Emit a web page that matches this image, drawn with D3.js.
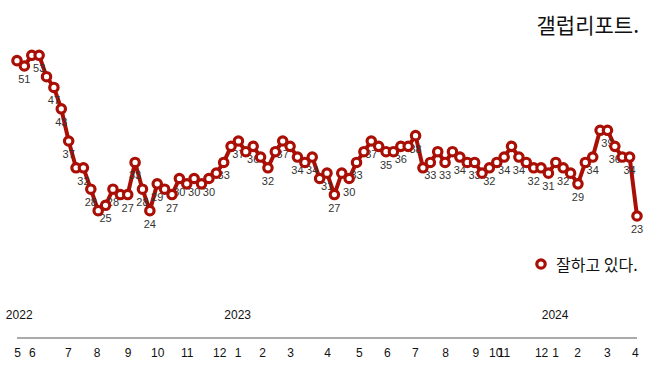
<!DOCTYPE html>
<html>
<head>
<meta charset="utf-8">
<script src="https://cdn.jsdelivr.net/npm/d3@7"></script>
<style>
  body { margin: 0; background: #fff; }
  svg { display: block; }
</style>
</head>
<body>
<div id="chart"></div>
<script>
// 갤럽 주간 조사 - 잘하고 있다 (%)
const values = [52, 51, 53, 53, 49, 47, 43, 37, 32, 32, 28, 24, 25, 28, 27, 27, 33, 28, 24, 29,
  28, 27, 30, 29, 30, 29, 30, 31, 33, 36, 37, 35, 36, 34, 32, 35, 37, 36, 34, 33,
  34, 30, 31, 27, 31, 30, 33, 35, 37, 36, 35, 35, 36, 36, 38, 32, 33, 35, 33, 35,
  34, 33, 33, 31, 32, 33, 34, 36, 34, 33, 32, 32, 31, 33, 32, 31, 29, 33, 34, 39,
  39, 36, 34, 34, 23];

// 월 눈금 (조사 순번 기준 위치)
const monthPos = [0, 2, 6.9, 10.8, 15, 19, 23, 27.4, 29.9, 33.2, 37, 42, 46.3, 50.1, 53.9, 58, 62.1, 64.8, 65.9, 71, 72.9, 75.9, 79.9, 83.7];
const monthLabels = ["5", "6", "7", "8", "9", "10", "11", "12", "1", "2", "3", "4", "5", "6", "7", "8", "9", "10", "11", "12", "1", "2", "3", "4"];
const yearPos = [0.3, 29.9, 72.9];
const yearLabels = ["2022", "2023", "2024"];

const title = "갤럽리포트.";
const seriesName = "잘하고 있다.";

const width = 658, height = 368;
const red = "#a90f05";

const svg = d3.select("#chart").append("svg")
    .attr("width", width)
    .attr("height", height);

const x = d3.scaleLinear().domain([0, values.length - 1]).range([17, 637]);
const y = d3.scaleLinear().domain([23, 51]).range([216, 66]);

// 라벨 겹침: 오른쪽부터, 바로 옆 라벨과 2 이하 차이면 숨김
const showLabel = new Array(values.length).fill(false);
let last = -1;
for (let i = values.length - 1; i >= 0; i--) {
    if (last === i + 1 && Math.abs(values[i] - values[last]) <= 2) continue;
    showLabel[i] = true;
    last = i;
}

// 선
const line = d3.line()
    .x((d, i) => x(i))
    .y(d => y(d));

svg.append("path")
    .datum(values)
    .attr("fill", "none")
    .attr("stroke", red)
    .attr("stroke-width", 4)
    .attr("stroke-linejoin", "round")
    .attr("d", line);

// 데이터 라벨
svg.append("g")
    .selectAll("text")
    .data(values.map((v, i) => ({ v: v, i: i })).filter(d => showLabel[d.i]))
    .enter()
    .append("text")
    .attr("x", d => x(d.i))
    .attr("y", d => y(d.v) + 13)
    .attr("text-anchor", "middle")
    .attr("dominant-baseline", "central")
    .attr("font-family", "Liberation Sans, Arial, sans-serif")
    .attr("font-size", 11)
    .attr("fill", "#333")
    .text(d => d.v);

// 점
svg.append("g")
    .selectAll("circle")
    .data(values)
    .enter()
    .append("circle")
    .attr("cx", (d, i) => x(i))
    .attr("cy", d => y(d))
    .attr("r", 4.2)
    .attr("fill", "#fff")
    .attr("stroke", red)
    .attr("stroke-width", 3.2);

// x축
const xAxis = d3.axisBottom(x)
    .tickValues(monthPos)
    .tickFormat((d, i) => monthLabels[i])
    .tickSize(0)
    .tickPadding(10);

const gx = svg.append("g")
    .attr("transform", "translate(0,338)")
    .call(xAxis);
gx.select(".domain")
    .attr("d", "M" + x(0) + ",0H" + x(values.length - 1))
    .attr("stroke", "#aaa")
    .attr("stroke-width", 2);
gx.selectAll("text")
    .attr("font-family", "Liberation Sans, Arial, sans-serif")
    .attr("font-size", 12)
    .attr("fill", "#111");

// 연도
svg.append("g")
    .selectAll("text")
    .data(yearLabels)
    .enter()
    .append("text")
    .attr("x", (d, i) => x(yearPos[i]))
    .attr("y", 315)
    .attr("text-anchor", "middle")
    .attr("dominant-baseline", "central")
    .attr("font-family", "Liberation Sans, Arial, sans-serif")
    .attr("font-size", 12)
    .attr("fill", "#111")
    .text(d => d);

// 제목
svg.append("text")
    .attr("x", 639)
    .attr("y", 24)
    .attr("text-anchor", "end")
    .attr("dominant-baseline", "central")
    .attr("font-family", "Noto Sans CJK KR, sans-serif")
    .attr("font-size", 21)
    .attr("fill", "#111")
    .text(title);

// 범례
const legend = svg.append("g").attr("transform", "translate(541,264)");
legend.append("circle")
    .attr("r", 4.2)
    .attr("fill", "#fff")
    .attr("stroke", red)
    .attr("stroke-width", 3.2);
legend.append("text")
    .attr("x", 15)
    .attr("y", 0)
    .attr("dominant-baseline", "central")
    .attr("font-family", "Noto Sans CJK KR, sans-serif")
    .attr("font-size", 16)
    .attr("fill", "#111")
    .text(seriesName);
</script>
</body>
</html>
